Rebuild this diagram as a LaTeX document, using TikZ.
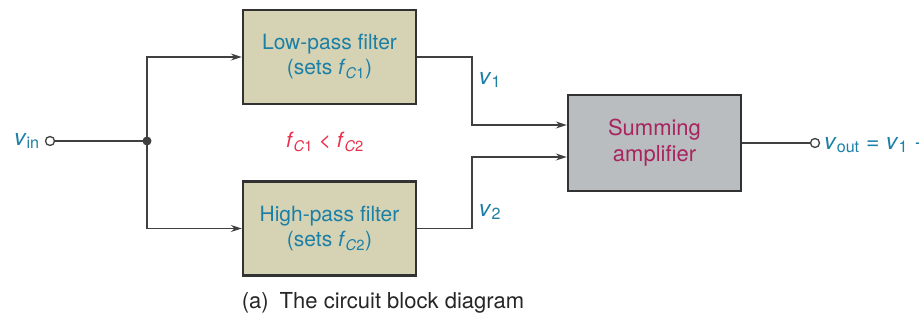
\documentclass[tikz,border=0pt]{standalone}
\usepackage{fontspec}
\setmainfont{TeX Gyre Heros}
\usetikzlibrary{arrows.meta,positioning}
\definecolor{sigblue}{RGB}{27,127,166}
\definecolor{summag}{RGB}{168,36,94}
\definecolor{fcred}{RGB}{232,48,74}
\definecolor{filterfill}{RGB}{214,211,180}
\definecolor{sumfill}{RGB}{185,189,192}
\definecolor{boxline}{RGB}{50,50,50}
\definecolor{wire}{RGB}{64,64,64}
\newcommand{\vv}{\textit{v}}
\newcommand{\fc}[1]{\textit{f}\textsubscript{\textit{C}#1}}
\tikzset{
  big/.style={font=\fontsize{21}{25}\selectfont},
  filterbox/.style={big, draw=boxline, line width=2.4pt, fill=filterfill,
    minimum width=173pt, minimum height=94pt, align=center, text=sigblue},
  sumbox/.style={font=\fontsize{22}{26}\selectfont, draw=boxline, line width=2.4pt,
    fill=sumfill, minimum width=173pt, minimum height=96pt, align=center, text=summag},
  sig/.style={font=\fontsize{23}{27}\selectfont, text=sigblue, inner sep=1pt},
  terminal/.style={circle, draw=wire, line width=1.3pt, fill=white,
    minimum size=9pt, inner sep=0pt},
  wireline/.style={draw=wire, line width=1.5pt},
  arrowline/.style={wireline, -{Stealth[length=11pt,width=7pt]}}
}
\begin{document}
\begin{tikzpicture}[x=1pt,y=1pt]
  \useasboundingbox (0,0) rectangle (919,326);
  % blocks
  \node[filterbox] (lpf) at (329.5,269) {Low-pass filter\\(sets \fc{1})};
  \node[filterbox] (hpf) at (329.5,97.5) {High-pass filter\\(sets \fc{2})};
  \node[sumbox] (sum) at (654.5,183) {Summing\\amplifier};
  % terminals
  \node[terminal] (vin) at (50,185) {};
  \node[sig, left=4pt of vin] {\vv\textsubscript{in}};
  \fill[wire] (147,185) circle (4.5pt) coordinate (junc);
  \node[terminal] (vout) at (815,183) {};
  \node[sig, anchor=west] at (823,181) {\vv\textsubscript{out} = \vv\textsubscript{1} +};
  \coordinate (lpfbend) at (472,269);
  \coordinate (hpfbend) at (472,97.5);
  % wires
  \draw[wireline] (vin) -- (junc);
  \draw[arrowline] (junc) |- (lpf);
  \draw[arrowline] (junc) |- (hpf);
  \draw[arrowline] (lpf) -- (lpfbend) |- ([yshift=18pt]sum.west);
  \draw[arrowline] (hpf) -- (hpfbend) |- ([yshift=-14pt]sum.west);
  \draw[wireline] (sum) -- (vout);
  % labels
  \node[sig] (v1) at (490,246) {\vv\textsubscript{1}};
  \node[sig] (v2) at (490,114) {\vv\textsubscript{2}};
  \node[big, text=fcred] (fcmp) at (325,184) {\fc{1} < \fc{2}};
  \node[font=\fontsize{22}{26}\selectfont, text=black!85] (caption) at (383,23)
    {(a)\enspace The circuit block diagram};
\end{tikzpicture}
\end{document}
